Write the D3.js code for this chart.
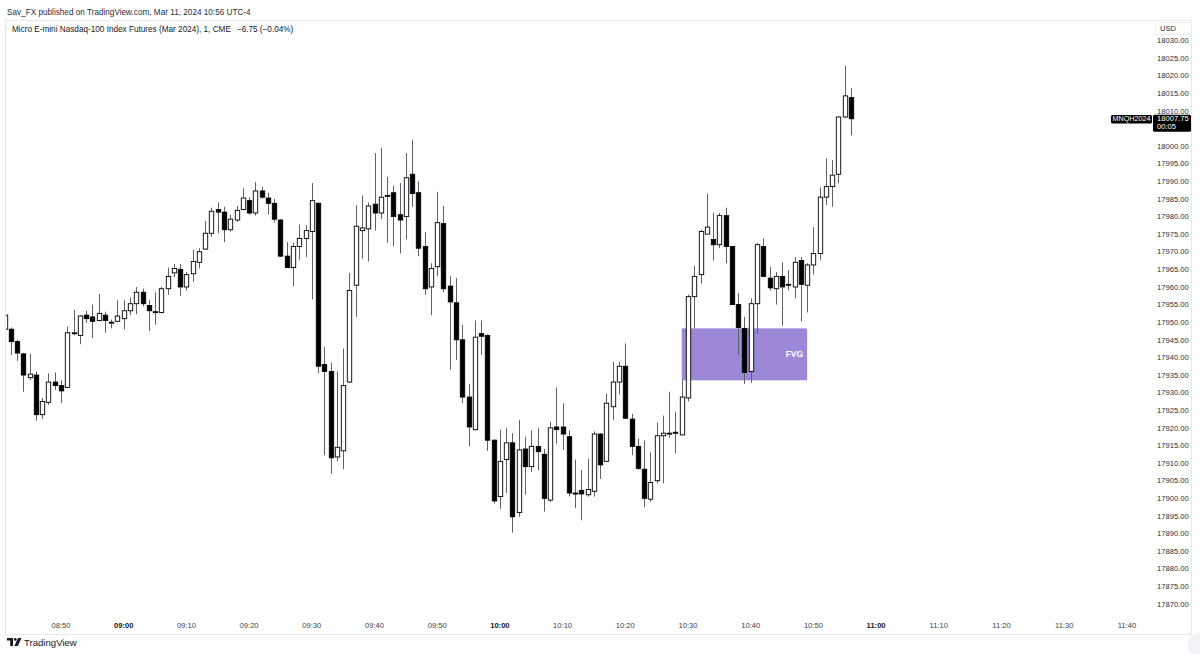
<!DOCTYPE html>
<html><head><meta charset="utf-8">
<script src="https://cdn.jsdelivr.net/npm/d3@7"></script>
<style>
html,body{margin:0;padding:0;background:#fff;}
svg{display:block;font-family:"Liberation Sans",Arial,sans-serif;}
</style></head>
<body>
<svg id="chart" width="1200" height="654"></svg>
<script>
// ---- data (1-minute candles, MNQH2024) ----
const times = ["08:41","08:42","08:43","08:44","08:45","08:46","08:47","08:48","08:49","08:50",
"08:51","08:52","08:53","08:54","08:55","08:56","08:57","08:58","08:59","09:00",
"09:01","09:02","09:03","09:04","09:05","09:06","09:07","09:08","09:09","09:10",
"09:11","09:12","09:13","09:14","09:15","09:16","09:17","09:18","09:19","09:20",
"09:21","09:22","09:23","09:24","09:25","09:26","09:27","09:28","09:29","09:30",
"09:31","09:32","09:33","09:34","09:35","09:36","09:37","09:38","09:39","09:40",
"09:41","09:42","09:43","09:44","09:45","09:46","09:47","09:48","09:49","09:50",
"09:51","09:52","09:53","09:54","09:55","09:56","09:57","09:58","09:59","10:00",
"10:01","10:02","10:03","10:04","10:05","10:06","10:07","10:08","10:09","10:10",
"10:11","10:12","10:13","10:14","10:15","10:16","10:17","10:18","10:19","10:20",
"10:21","10:22","10:23","10:24","10:25","10:26","10:27","10:28","10:29","10:30",
"10:31","10:32","10:33","10:34","10:35","10:36","10:37","10:38","10:39","10:40",
"10:41","10:42","10:43","10:44","10:45","10:46","10:47","10:48","10:49","10:50",
"10:51","10:52","10:53","10:54","10:55","10:56"];
const open = [17948.0,17948.0,17944.5,17941.0,17934.25,17935.0,17923.75,17927.25,17933.0,17932.0,
17931.5,17946.75,17946.25,17952.0,17951.5,17950.5,17952.0,17949.75,17950.25,17951.0,
17953.25,17955.25,17958.5,17954.75,17953.0,17952.75,17959.5,17964.0,17965.0,17960.0,
17963.75,17967.0,17970.75,17975.25,17982.0,17981.25,17976.25,17979.0,17982.0,17984.5,
17981.0,17987.25,17985.25,17983.75,17979.0,17968.75,17965.5,17971.5,17973.75,17975.75,
17983.75,17938.0,17936.0,17911.75,17913.5,17933.0,17960.5,17976.0,17976.5,17983.5,
17981.0,17986.0,17986.75,17980.5,17980.0,17992.0,17986.75,17971.5,17960.0,17965.75,
17978.0,17960.25,17955.5,17945.0,17928.75,17919.5,17946.75,17946.25,17916.5,17900.5,
17911.0,17915.75,17896.0,17914.0,17909.0,17914.75,17912.5,17899.5,17920.25,17920.25,
17917.5,17901.5,17902.25,17901.0,17902.0,17918.25,17910.5,17926.0,17933.0,17937.5,
17922.5,17914.75,17908.25,17899.75,17905.0,17917.75,17918.25,17918.75,17918.0,17928.5,
17957.25,17963.5,17975.0,17973.5,17972.0,17980.25,17971.5,17955.0,17948.25,17936.0,
17955.25,17971.5,17962.5,17959.5,17963.0,17960.5,17960.0,17967.5,17960.5,17966.25,
17969.5,17985.5,17988.5,17992.0,18008.25,18013.75];
const high = [17952.0,17948.5,17945.0,17941.25,17941.0,17936.0,17928.5,17935.5,17935.75,17933.5,
17948.75,17953.5,17952.0,17953.25,17955.0,17958.0,17953.0,17950.75,17956.25,17956.25,
17957.0,17960.0,17959.5,17956.25,17958.5,17960.0,17965.5,17966.5,17966.5,17964.25,
17970.5,17971.0,17978.75,17982.5,17984.0,17982.75,17980.5,17983.0,17988.0,17985.5,
17989.75,17988.5,17986.75,17985.0,17979.25,17972.75,17972.5,17977.75,17977.5,17989.5,
17984.0,17943.0,17938.5,17936.0,17942.5,17964.0,17983.25,17986.0,17984.0,17998.0,
17999.5,17991.25,17988.75,17989.5,17998.0,18001.75,17990.0,17975.5,17966.75,17987.0,
17983.0,17963.0,17962.5,17949.25,17932.5,17950.5,17950.5,17946.5,17916.75,17919.5,
17920.0,17918.5,17922.25,17917.5,17919.25,17920.0,17914.0,17921.75,17931.5,17927.0,
17919.25,17911.0,17908.0,17911.25,17919.0,17918.5,17929.75,17938.75,17938.75,17944.0,
17924.0,17917.0,17916.5,17913.0,17921.5,17923.5,17930.25,17924.5,17933.5,17957.75,
17966.0,17976.25,17986.5,17981.0,17981.0,17982.5,17971.5,17958.25,17951.5,17956.75,
17972.5,17973.75,17965.75,17964.25,17967.0,17964.75,17968.5,17968.5,17966.75,17977.0,
17988.25,17996.5,17996.0,18008.5,18022.75,18016.5];
const low = [17947.5,17940.75,17939.0,17930.25,17933.5,17922.0,17922.5,17926.5,17930.75,17927.0,
17931.25,17946.25,17943.75,17949.75,17945.5,17950.25,17947.0,17948.25,17950.0,17948.0,
17952.0,17952.25,17954.5,17947.5,17949.25,17952.5,17957.75,17962.75,17957.5,17959.0,
17961.5,17965.25,17970.5,17974.25,17975.25,17972.75,17975.75,17978.5,17981.75,17980.5,
17980.25,17985.0,17980.5,17978.25,17968.5,17965.5,17960.25,17967.75,17968.5,17956.5,
17935.5,17912.25,17907.0,17910.5,17908.25,17932.75,17951.5,17968.0,17967.25,17976.0,
17979.25,17972.5,17971.5,17969.5,17973.5,17982.75,17968.75,17957.75,17952.0,17963.0,
17958.5,17936.5,17939.25,17927.0,17914.75,17919.25,17940.75,17913.5,17898.5,17897.0,
17901.5,17890.25,17894.75,17901.0,17907.5,17908.0,17896.25,17899.0,17915.5,17913.75,
17900.5,17897.25,17893.75,17900.5,17900.5,17905.5,17910.25,17922.25,17929.5,17922.5,
17912.25,17908.0,17897.5,17899.0,17904.25,17904.25,17917.25,17912.75,17918.0,17927.5,
17948.25,17961.0,17975.0,17967.5,17971.0,17966.75,17955.0,17940.75,17932.5,17932.75,
17946.75,17963.0,17959.0,17955.0,17949.0,17959.0,17956.75,17950.25,17952.75,17963.5,
17967.75,17983.25,17982.75,17989.5,18008.0,18003.0];
const close = [17952.0,17944.5,17941.25,17935.0,17935.25,17923.75,17927.5,17933.0,17932.0,17930.5,
17947.0,17947.0,17951.75,17951.0,17950.25,17952.5,17950.5,17950.0,17951.75,17953.25,
17955.25,17958.5,17955.25,17953.25,17953.0,17959.5,17963.0,17965.25,17960.0,17963.5,
17967.25,17970.0,17975.25,17981.5,17981.25,17976.25,17979.25,17981.75,17985.25,17981.0,
17987.25,17985.5,17983.75,17979.25,17968.75,17965.5,17971.5,17973.75,17976.0,17984.5,
17937.5,17936.0,17911.5,17914.5,17932.0,17959.0,17977.25,17976.75,17983.0,17981.0,
17985.5,17985.75,17980.0,17979.0,17991.0,17986.5,17971.0,17959.5,17965.25,17978.25,
17959.5,17955.75,17945.0,17928.75,17920.25,17945.75,17946.0,17916.5,17899.25,17910.5,
17915.75,17894.75,17913.75,17909.0,17914.75,17913.25,17900.0,17920.0,17919.5,17918.25,
17901.5,17901.25,17901.25,17902.5,17918.25,17909.5,17927.0,17933.0,17937.5,17922.75,
17914.75,17908.5,17900.0,17904.5,17917.75,17918.5,17918.5,17918.5,17928.75,17957.25,
17963.0,17975.75,17977.0,17972.0,17980.25,17971.5,17955.0,17948.5,17935.75,17955.25,
17972.0,17963.0,17959.75,17963.0,17960.0,17960.75,17967.0,17960.75,17966.25,17969.5,
17985.5,17988.5,17991.75,18008.25,18014.25,18007.75];

const priceTicks = d3.range(17870, 18030.01, 5);
const timeTicks = ["08:50","09:00","09:10","09:20","09:30","09:40","09:50","10:00","10:10","10:20",
"10:30","10:40","10:50","11:00","11:10","11:20","11:30","11:40"];
const fvgZone = {start:"10:29", end:"10:49", low:17933.5, high:17948.25, label:"FVG"};
const lastPrice = 18007.75, countdown = "00:05", symbol = "MNQH2024";
const headerTop = "Sav_FX published on TradingView.com, Mar 11, 2024 10:56 UTC-4";
const headerTitle = "Micro E-mini Nasdaq-100 Index Futures (Mar 2024), 1, CME";
const headerChange = "\u22126.75 (\u22120.04%)";

// ---- scales ----
const toMin = s => { const [h,m] = s.split(":").map(Number); return h*60+m; };
const x = d3.scaleLinear().domain([toMin("10:30"), toMin("11:40")]).range([688, 1126.9]);
const y = d3.scaleLinear().domain([17870, 18025]).range([604, 58]);

const svg = d3.select("#chart");
const TXT = "#131722";

// frame
svg.append("rect").attr("x",5.5).attr("y",20.5).attr("width",1186).attr("height",614)
  .attr("fill","none").attr("stroke","#e6e8ee");

// header
svg.append("text").attr("x",7).attr("y",15).attr("font-size",8.2).attr("fill","#2a2e39").text(headerTop);
const ht = svg.append("text").attr("x",12).attr("y",32).attr("font-size",8.2).attr("fill",TXT);
ht.append("tspan").text(headerTitle);
ht.append("tspan").attr("dx",6).text(headerChange);

// clip
svg.append("clipPath").attr("id","plot").append("rect").attr("x",6).attr("y",21).attr("width",1140).attr("height",590);
const plot = svg.append("g").attr("clip-path","url(#plot)");

// FVG zone
plot.append("rect")
  .attr("x", x(toMin(fvgZone.start))).attr("y", y(fvgZone.high))
  .attr("width", x(toMin(fvgZone.end)) - x(toMin(fvgZone.start)))
  .attr("height", y(fvgZone.low) - y(fvgZone.high))
  .attr("fill","#9d87d7");
plot.append("text").attr("x", x(toMin(fvgZone.end)) - 4).attr("y", (y(fvgZone.low)+y(fvgZone.high))/2 + 3)
  .attr("text-anchor","end").attr("font-size",8.5).attr("font-weight","bold").attr("fill","#fff").text(fvgZone.label);

// candles
const data = times.map((t,i)=>({t:toMin(t), o:open[i], h:high[i], l:low[i], c:close[i]}));
const bw = 4.4;
const g = plot.append("g");
data.forEach(d=>{
  const cx = Math.round(x(d.t)) + 0.5;
  g.append("line").attr("x1",cx).attr("x2",cx).attr("y1",y(d.h)).attr("y2",y(d.l))
    .attr("stroke","#5d6068").attr("stroke-width",1);
  const up = d.c >= d.o;
  const top = y(Math.max(d.o,d.c)), bot = y(Math.min(d.o,d.c));
  const hgt = Math.max(bot-top, 1);
  g.append("rect").attr("x", cx - bw/2).attr("y", top).attr("width", bw).attr("height", hgt)
    .attr("fill", up ? "#fff" : "#000").attr("stroke","#000").attr("stroke-width",0.9);
});

// price axis (labels hidden behind the last-price box are skipped)
const ly = y(lastPrice);
const boxTop = ly - 4, boxBot = ly + 13;
const pa = svg.append("g");
pa.selectAll("text.p").data(priceTicks.filter(d => y(d) < boxTop - 2 || y(d) > boxBot + 2)).join("text").attr("class","p")
  .attr("x",1157).attr("y",d=>y(d)+2.7).attr("font-size",7.6).attr("fill","#2a2e39")
  .text(d=>d.toFixed(2));
// USD label
pa.append("rect").attr("x",1155.5).attr("y",22.5).attr("width",36).attr("height",12).attr("fill","#fff").attr("stroke","#eceef2");
pa.append("text").attr("x",1160).attr("y",31).attr("font-size",7.6).attr("fill","#2a2e39").text("USD");

// last price labels
pa.append("rect").attr("x",1111).attr("y",ly-3.8).attr("width",41).attr("height",8.6).attr("rx",1.5).attr("fill","#000");
pa.append("text").attr("x",1131.5).attr("y",ly+2.6).attr("text-anchor","middle").attr("font-size",7.2).attr("fill","#fff").text(symbol);
pa.append("rect").attr("x",1153).attr("y",boxTop).attr("width",38).attr("height",boxBot-boxTop).attr("rx",1.5).attr("fill","#000");
pa.append("text").attr("x",1157).attr("y",ly+2.6).attr("font-size",7.6).attr("fill","#fff").text(lastPrice.toFixed(2));
pa.append("text").attr("x",1157).attr("y",ly+10.6).attr("font-size",7.6).attr("fill","#fff").text(countdown);

// time axis
svg.append("g").selectAll("text").data(timeTicks).join("text")
  .attr("x",d=>x(toMin(d))).attr("y",628).attr("text-anchor","middle")
  .attr("font-size",7.6).attr("font-weight",d=>d.endsWith(":00")?"bold":"normal")
  .attr("fill",d=>d.endsWith(":00")?TXT:"#3a3e49").text(d=>d);

// bottom-right ui corner
svg.append("circle").attr("cx",1200).attr("cy",645).attr("r",12).attr("fill","#f0f2f5");

// TradingView logo
const lg = svg.append("g").attr("transform","translate(7,638)");
lg.append("path").attr("d","M0,0 H6 V8 H3.2 V2.6 H0 Z").attr("fill",TXT);
lg.append("circle").attr("cx",8.2).attr("cy",1.4).attr("r",1.4).attr("fill",TXT);
lg.append("path").attr("d","M11,0 H14.5 L10.8,8 H7.4 Z").attr("fill",TXT);
svg.append("text").attr("x",24).attr("y",646.3).attr("font-size",9.6).attr("fill",TXT).text("TradingView");
</script>
</body></html>
